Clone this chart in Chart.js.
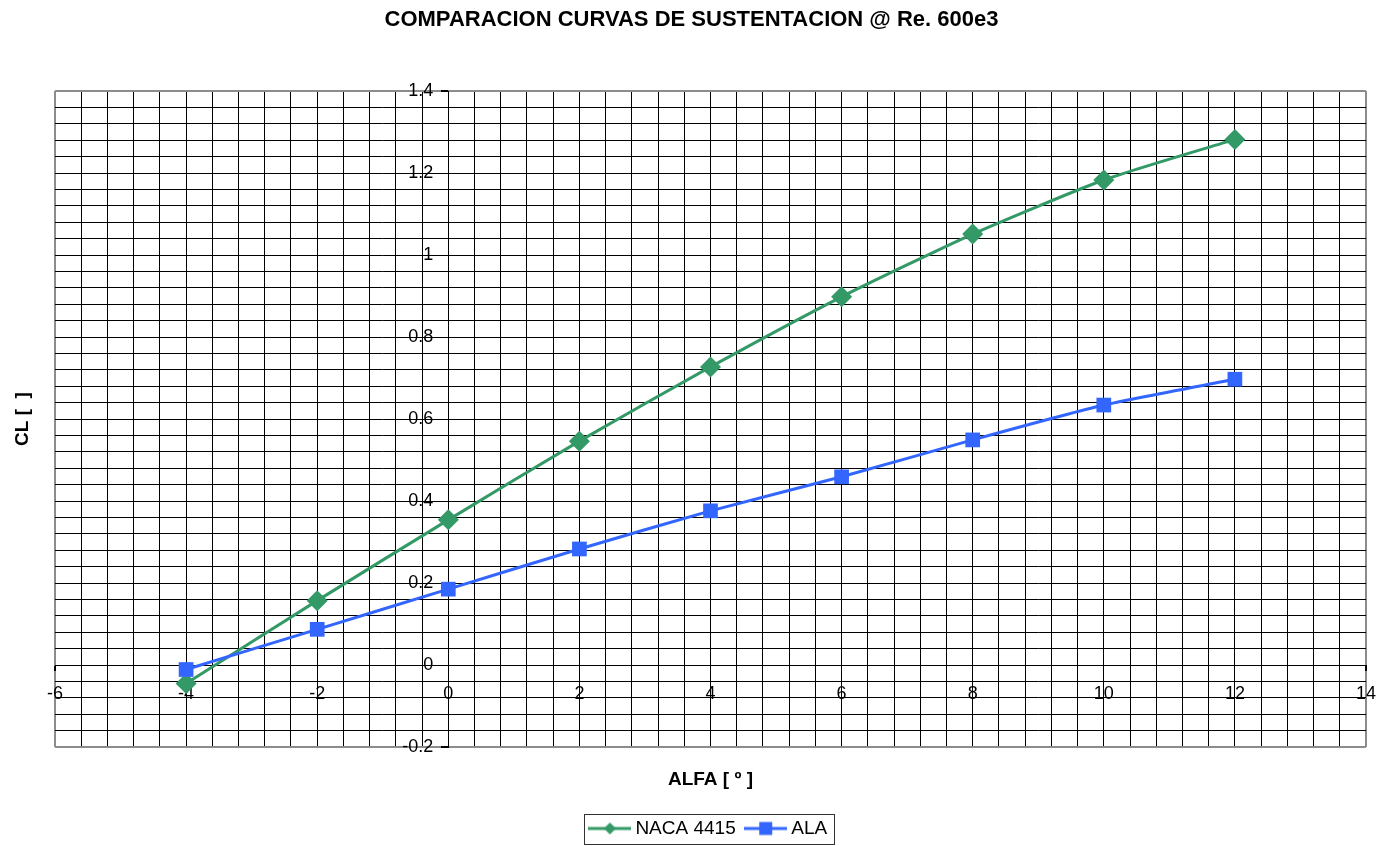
<!DOCTYPE html>
<html lang="es">
<head>
    <meta charset="UTF-8">
    <title>Comparacion curvas de sustentacion</title>
    <script src="https://cdn.jsdelivr.net/npm/chart.js"></script>
    <style>
        body {
            margin: 0;
            background-color: #ffffff;
        }

        .chart-container {
            width: 1383px;
            height: 846px;
        }
    </style>
</head>
<body>
    <div class="chart-container">
        <canvas id="liftChart"></canvas>
    </div>

    <script>
        // Angulo de ataque [grados]
        const alfa = [-4, -2, 0, 2, 4, 6, 8, 10, 12];

        // Coeficiente de sustentacion de cada serie
        const clNaca4415 = [-0.045, 0.157, 0.354, 0.546, 0.727, 0.898, 1.051, 1.183, 1.282];
        const clAla = [-0.011, 0.087, 0.185, 0.283, 0.376, 0.459, 0.549, 0.634, 0.697];

        // Marcas principales de los ejes (las lineas menores van entre ellas)
        const xMajorTicks = [-6, -4, -2, 0, 2, 4, 6, 8, 10, 12, 14];
        const yMajorTicks = [-0.2, 0, 0.2, 0.4, 0.6, 0.8, 1, 1.2, 1.4];

        const GREEN = '#339966';
        const BLUE = '#3366FF';
        const FRAME = '#8c8c8c';
        const FONT = 'Liberation Sans, Arial, Helvetica, sans-serif';

        function majorLabel(list, value) {
            const hit = list.find(v => Math.abs(v - value) < 1e-6);
            return hit === undefined ? '' : String(hit);
        }

        // las lineas del borde del area de trazado van en gris y mas gruesas
        function isEdge(ctx) {
            return ctx.index === 0 || ctx.index === ctx.scale.ticks.length - 1;
        }

        // Icono de leyenda: linea con el marcador en el centro
        function legendIcon(color, marker) {
            const c = document.createElement('canvas');
            c.width = 43;
            c.height = 16;
            const g = c.getContext('2d');
            g.strokeStyle = color;
            g.lineWidth = 3;
            g.beginPath();
            g.moveTo(0, 8);
            g.lineTo(43, 8);
            g.stroke();
            g.fillStyle = color;
            g.beginPath();
            if (marker === 'diamond') {
                g.moveTo(21.5, 2);
                g.lineTo(27.5, 8);
                g.lineTo(21.5, 14);
                g.lineTo(15.5, 8);
                g.closePath();
            } else {
                g.rect(15, 1.5, 13, 13);
            }
            g.fill();
            return c;
        }

        const icons = [legendIcon(GREEN, 'diamond'), legendIcon(BLUE, 'square')];

        // Recuadro de la leyenda
        const legendFrame = {
            id: 'legendFrame',
            afterDraw(chart) {
                const boxes = chart.legend.legendHitBoxes;
                if (!boxes || !boxes.length) return;
                const left = Math.min(...boxes.map(b => b.left)) - 9.5;
                const right = Math.max(...boxes.map(b => b.left + b.width)) + 7;
                const top = boxes[0].top - 5;
                const bottom = boxes[0].top + boxes[0].height + 6;
                const ctx = chart.ctx;
                ctx.save();
                ctx.strokeStyle = '#333333';
                ctx.lineWidth = 1;
                ctx.strokeRect(Math.round(left) + 0.5, Math.round(top) + 0.5,
                    Math.round(right - left), Math.round(bottom - top));
                ctx.restore();
            }
        };

        const data = {
            datasets: [
                {
                    label: 'NACA 4415',
                    data: alfa.map((a, i) => ({x: a, y: clNaca4415[i]})),
                    borderColor: GREEN,
                    backgroundColor: GREEN,
                    borderWidth: 3,
                    pointStyle: 'rectRot',
                    pointRadius: 10.5,
                    pointBorderWidth: 0,
                    tension: 0.2,
                    order: 1
                },
                {
                    label: 'ALA',
                    data: alfa.map((a, i) => ({x: a, y: clAla[i]})),
                    borderColor: BLUE,
                    backgroundColor: BLUE,
                    borderWidth: 3,
                    pointStyle: 'rect',
                    pointRadius: 10.4,
                    pointBorderWidth: 0,
                    tension: 0.2,
                    order: 0
                }
            ]
        };

        const config = {
            type: 'scatter',
            data: data,
            plugins: [legendFrame],
            options: {
                responsive: true,
                maintainAspectRatio: false,
                animation: false,
                showLine: true,
                layout: {
                    padding: {top: 0, left: 0, right: 0, bottom: -2}
                },
                plugins: {
                    tooltip: {enabled: false},
                    title: {
                        display: true,
                        text: 'COMPARACION CURVAS DE SUSTENTACION @ Re. 600e3',
                        color: '#000000',
                        font: {family: FONT, size: 22, weight: 'bold'},
                        padding: {top: 7, bottom: 57.6}
                    },
                    legend: {
                        position: 'bottom',
                        fullSize: false,
                        labels: {
                            color: '#000000',
                            font: {family: FONT, size: 19},
                            usePointStyle: true,
                            pointStyleWidth: 32,
                            padding: 14,
                            sort: (a, b) => a.datasetIndex - b.datasetIndex,
                            generateLabels: (chart) => {
                                const items = Chart.defaults.plugins.legend.labels.generateLabels(chart);
                                items.forEach(item => { item.pointStyle = icons[item.datasetIndex]; });
                                return items;
                            }
                        }
                    }
                },
                scales: {
                    x: {
                        type: 'linear',
                        position: {y: 0},
                        min: -6,
                        max: 14,
                        ticks: {
                            stepSize: 0.4,
                            autoSkip: false,
                            maxRotation: 0,
                            padding: 13,
                            color: '#000000',
                            font: {family: FONT, size: 18},
                            callback: (v) => majorLabel(xMajorTicks, v)
                        },
                        grid: {
                            color: (ctx) => isEdge(ctx) ? FRAME : '#000000',
                            lineWidth: (ctx) => isEdge(ctx) ? 2 : 1,
                            tickLength: 5,
                            tickColor: (ctx) => majorLabel(xMajorTicks, ctx.tick.value) === '' ? 'rgba(0,0,0,0)' : '#000000'
                        },
                        border: {color: '#000000', width: 1},
                        // las etiquetas del extremo no deben estrechar el area de trazado
                        afterFit: (scale) => {
                            scale.paddingLeft = 0;
                            scale.paddingRight = 0;
                        }
                    },
                    y: {
                        type: 'linear',
                        position: {x: 0},
                        min: -0.2,
                        max: 1.4,
                        ticks: {
                            stepSize: 0.04,
                            autoSkip: false,
                            color: '#000000',
                            font: {family: FONT, size: 18},
                            // el eje centrado no aplica padding: se separa con espacios
                            callback: (v) => {
                                const s = majorLabel(yMajorTicks, v);
                                return s === '' ? '' : s + '   ';
                            }
                        },
                        grid: {
                            color: (ctx) => isEdge(ctx) ? FRAME : '#000000',
                            lineWidth: (ctx) => isEdge(ctx) ? 2 : 1,
                            tickLength: 7,
                            tickColor: (ctx) => majorLabel(yMajorTicks, ctx.tick.value) === '' ? 'rgba(0,0,0,0)' : '#000000'
                        },
                        border: {color: '#000000', width: 1},
                        afterFit: (scale) => {
                            scale.paddingTop = 0;
                            scale.paddingBottom = 0;
                        }
                    },
                    // ejes auxiliares: solo llevan los titulos y el margen del grafico
                    yTitle: {
                        type: 'linear',
                        axis: 'y',
                        position: 'left',
                        display: true,
                        ticks: {display: false},
                        grid: {display: false, drawTicks: false},
                        border: {display: false},
                        title: {
                            display: true,
                            text: 'CL [  ]',
                            color: '#000000',
                            font: {family: FONT, size: 19, weight: 'bold'},
                            padding: {top: 11.6, bottom: 20.6}
                        }
                    },
                    yRight: {
                        type: 'linear',
                        axis: 'y',
                        position: 'right',
                        display: true,
                        ticks: {display: false},
                        grid: {display: false, drawTicks: false},
                        border: {display: false},
                        afterFit: (scale) => { scale.width = 17; }
                    },
                    xTitle: {
                        type: 'linear',
                        axis: 'x',
                        position: 'bottom',
                        display: true,
                        ticks: {display: false},
                        grid: {display: false, drawTicks: false},
                        border: {display: false},
                        title: {
                            display: true,
                            text: 'ALFA [ º ]',
                            color: '#000000',
                            font: {family: FONT, size: 19, weight: 'bold'},
                            padding: {top: 21.6, bottom: 13.6}
                        }
                    }
                }
            }
        };

        const liftChart = new Chart(document.getElementById('liftChart'), config);
    </script>
</body>
</html>
